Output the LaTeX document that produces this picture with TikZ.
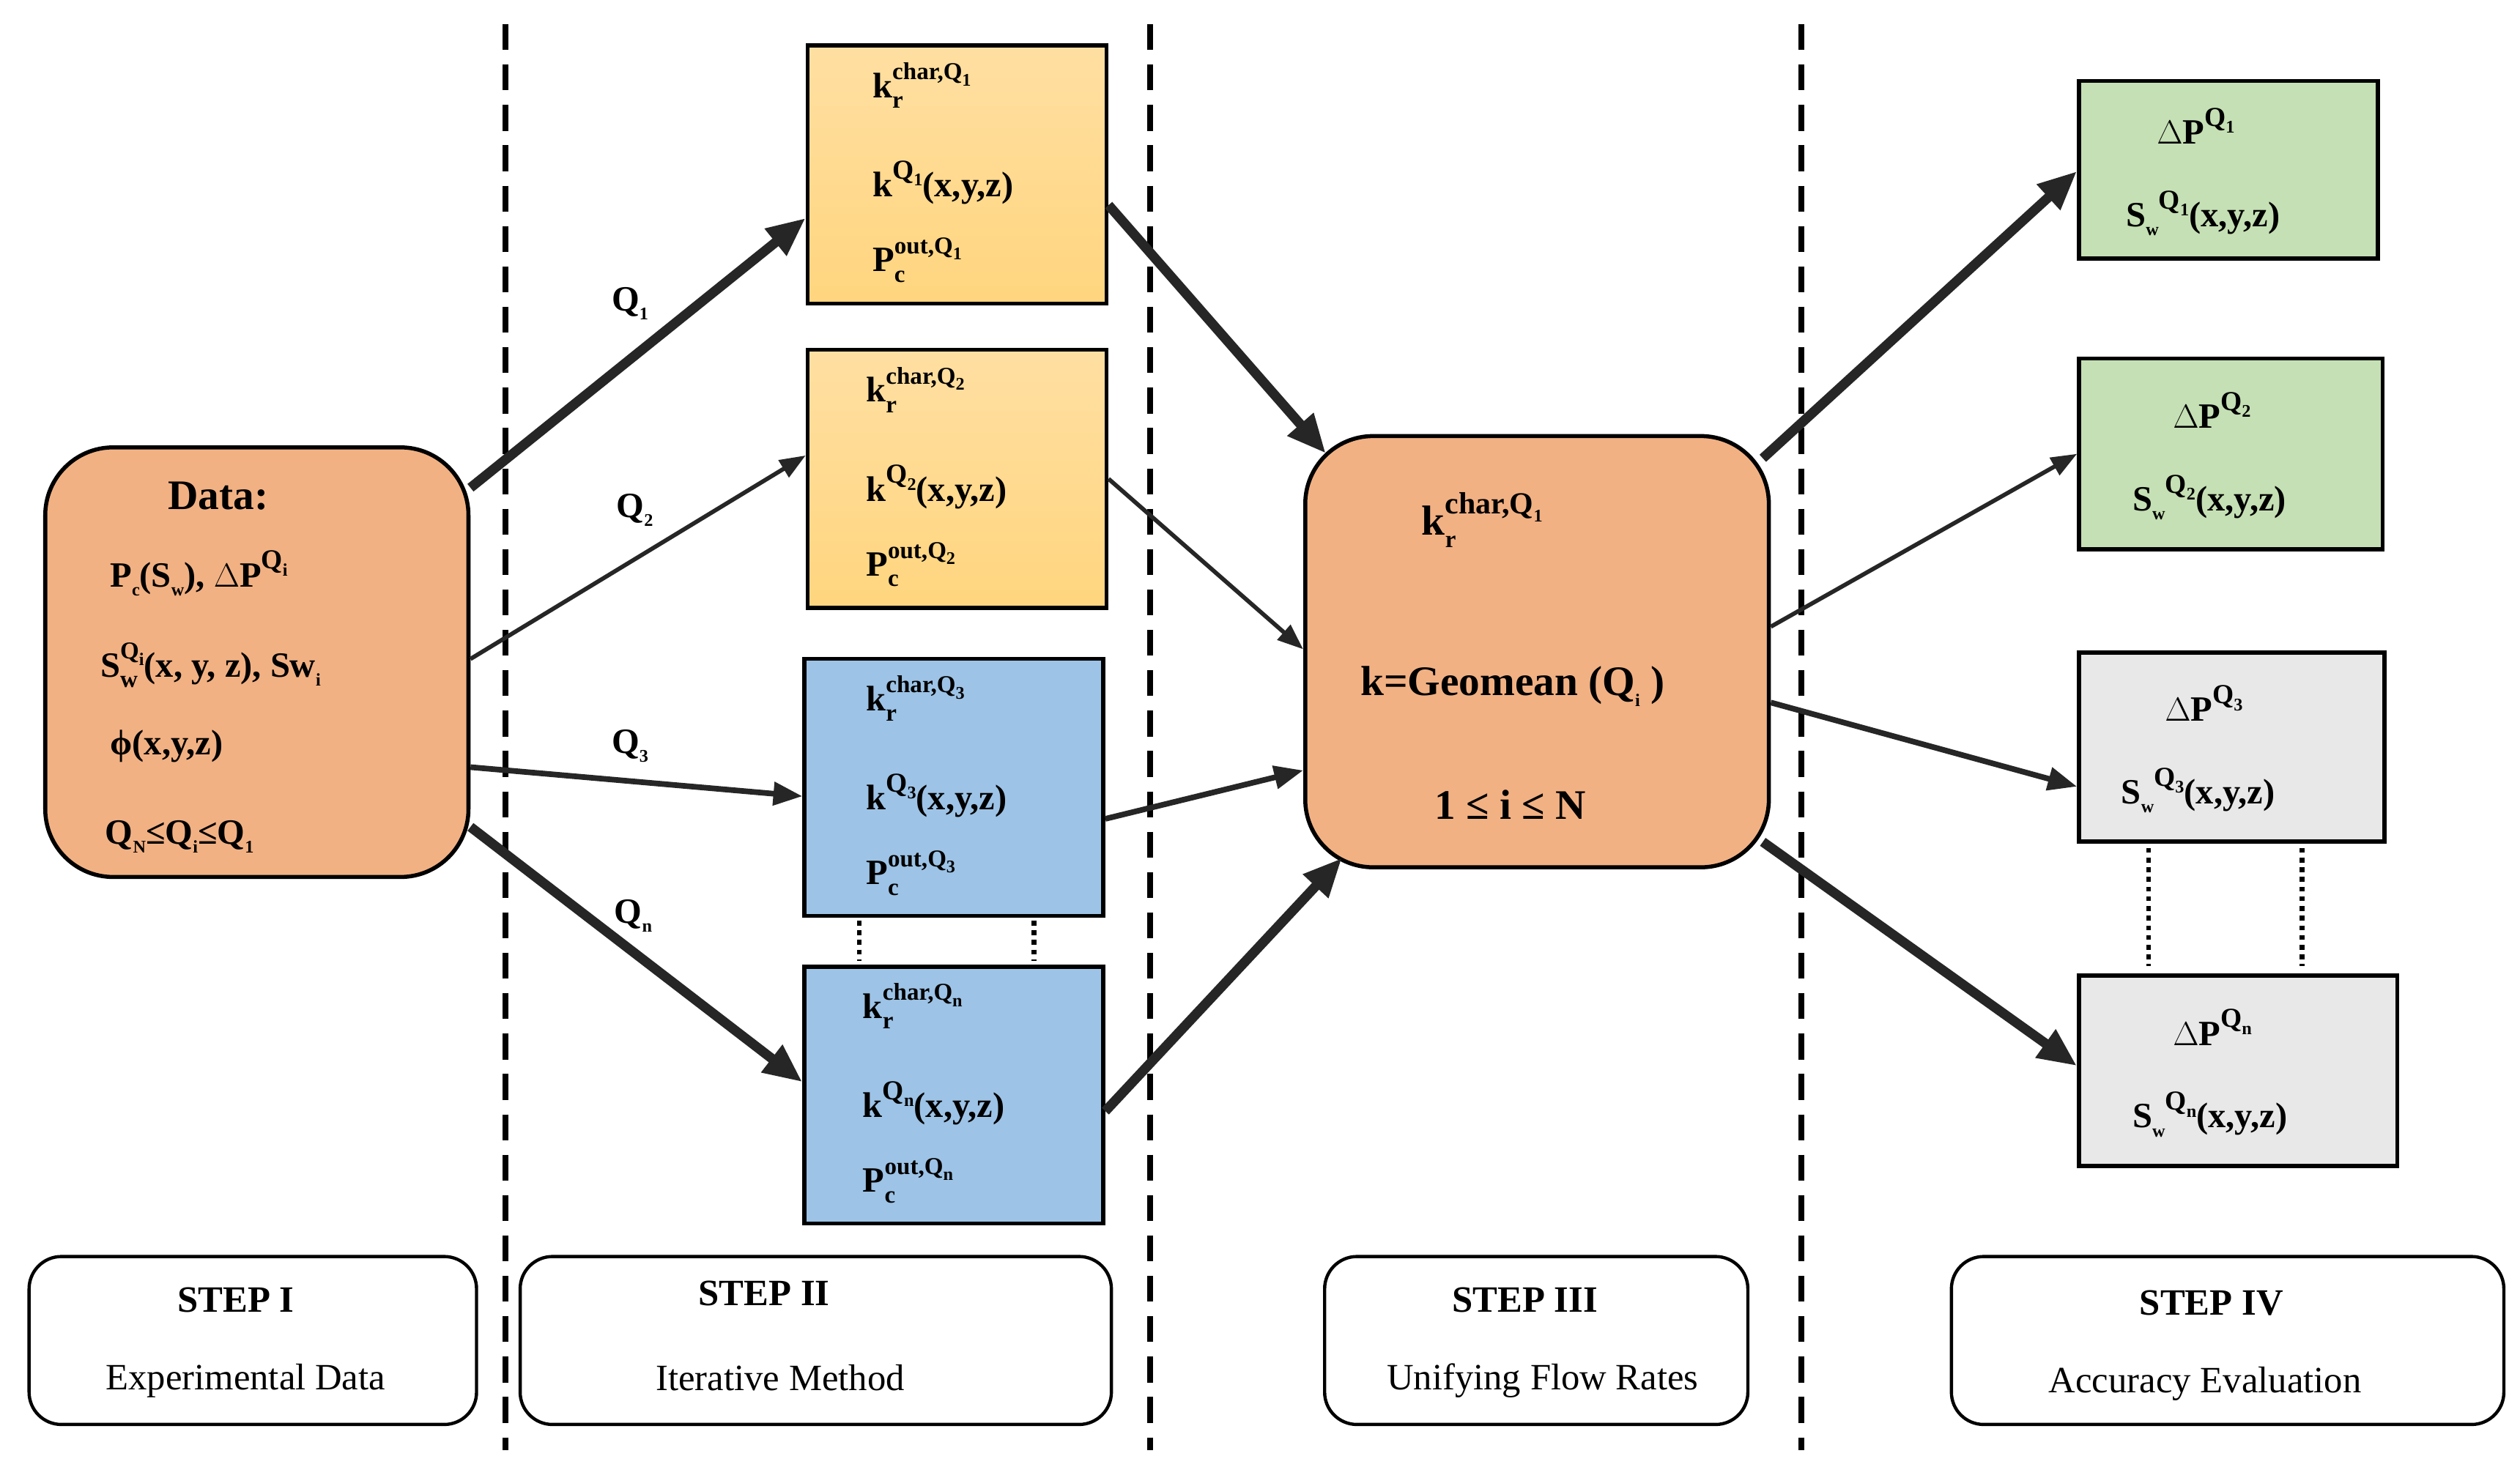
\documentclass[tikz,border=0pt]{standalone}
\usepackage{fontspec}
\setmainfont{Liberation Serif}
\usetikzlibrary{arrows.meta,calc}
\newcommand{\SupSub}[2]{\setbox0\hbox{\fontsize{15}{15}\selectfont #1}\setbox2\hbox{\fontsize{15}{15}\selectfont #2}\ifdim\wd0>\wd2 \rlap{\raisebox{-0.3em}{\box2}}\raisebox{0.5em}{\box0}\else\rlap{\raisebox{0.5em}{\box0}}\raisebox{-0.3em}{\box2}\fi}
\newcommand{\Sb}[1]{\raisebox{-0.25em}{\fontsize{11}{11}\selectfont #1}}
\newcommand{\Sp}[1]{\raisebox{0.5em}{\fontsize{17}{17}\selectfont #1}}
\definecolor{salmon}{HTML}{F2B183}
\definecolor{ytop}{HTML}{FFDFA2}
\definecolor{ybot}{HTML}{FFD57E}
\definecolor{bluef}{HTML}{9DC3E6}
\definecolor{greenf}{HTML}{C5E0B4}
\definecolor{grayf}{HTML}{E8E8E8}
\definecolor{arr}{HTML}{262626}
\begin{document}
\begin{tikzpicture}[x=1pt,y=-1pt,
  mybox/.style={draw=black,line width=2.5pt,minimum width=#1},
  ybox/.style={mybox=185pt,minimum height=160pt,top color=ytop,bottom color=ybot},
  bbox/.style={mybox=185pt,minimum height=159pt,fill=bluef},
  rbig/.style={draw=black,line width=2.5pt,rounded corners=42pt,fill=salmon},
  stepbox/.style={draw=black,line width=2pt,rounded corners=20pt,fill=white},
  txt/.style={font=\bfseries\fontsize{22}{26}\selectfont,anchor=west,inner sep=0pt},
  lbl/.style={font=\bfseries\fontsize{22}{26}\selectfont,inner sep=0pt},
  athick/.style={draw=arr,line width=6pt,-{Triangle[length=24pt,width=20pt]}},
  amed/.style={draw=arr,line width=3.5pt,-{Triangle[length=18pt,width=14pt]}},
  athin/.style={draw=arr,line width=2.6pt,-{Triangle[length=16pt,width=12pt]}},
  sepdash/.style={line width=3.5pt,dash pattern=on 16pt off 9pt},
  mydots/.style={line width=3pt,dash pattern=on 3pt off 3pt}]
\useasboundingbox (0,0) rectangle (1560,908);
% dashed separators
\foreach \x in {313,712,1115} \draw[sepdash] (\x,15) -- (\x,898);
% Data box
\node[rbig,minimum width=262pt,minimum height=266pt] (data) at (159,410) {};
\node[lbl,font=\bfseries\fontsize{26}{30}\selectfont] (dt) at (135,307) {Data:};
\node[txt] (d1) at (68,355) {P\Sb{c}(S\Sb{w}), $\Delta$P\Sp{Q\Sb{i}}};
\node[txt] (d2) at (62,412) {S\SupSub{Q\Sb{i}}{w}(x, y, z), Sw\Sb{i}};
\node[txt] (d3) at (68,462) {ϕ(x,y,z)};
\node[txt] (d4) at (65,518) {Q\Sb{N}≤Q\Sb{i}≤Q\Sb{1}};
% step II boxes
\node[ybox] (b1) at (592.5,108) {};
\node[ybox] (b2) at (592.5,296.5) {};
\node[bbox] (b3) at (590.5,487.5) {};
\node[bbox] (b4) at (590.5,678) {};
\foreach \n/\q/\xx/\yy in {b1/1/540/108,b2/2/536/296.5,b3/3/536/487.5,b4/n/534/678}{
  \node[txt] (\n a) at (\xx,\yy-55) {k\SupSub{char,Q\Sb{\q}}{r}};
  \node[txt] (\n b) at (\xx,\yy+5) {k\Sp{Q\Sb{\q}}(x,y,z)};
  \node[txt] (\n c) at (\xx,\yy+53) {P\SupSub{out,Q\Sb{\q}}{c}};
}
\coordinate (dA1) at (532,570); \coordinate (dA2) at (532,595);
\coordinate (dB1) at (640,570); \coordinate (dB2) at (640,595);
\draw[mydots] (dA1) -- (dA2); \draw[mydots] (dB1) -- (dB2);
% centre box
\node[rbig,minimum width=287pt,minimum height=267pt] (cen) at (951.5,403.5) {};
\node[txt,font=\bfseries\fontsize{26}{30}\selectfont] (c1) at (880,322) {k\SupSub{\fontsize{19}{19}\selectfont char,Q\Sb{1}}{r}};
\node[txt,font=\bfseries\fontsize{26}{30}\selectfont] (c2) at (842,425) {k=Geomean (Q\Sb{i} )};
\node[txt,font=\bfseries\fontsize{26}{30}\selectfont] (c3) at (888,498) {1 ≤ i ≤ N};
% step IV boxes
\node[mybox=185pt,minimum height=110pt,fill=greenf] (g1) at (1379.5,105) {};
\node[mybox=188pt,minimum height=118pt,fill=greenf] (g2) at (1381,281) {};
\node[mybox=189pt,minimum height=117pt,fill=grayf] (r3) at (1381.5,462.5) {};
\node[mybox=197pt,minimum height=118pt,fill=grayf] (r4) at (1385.5,663) {};
\foreach \n/\q/\xa/\xb/\yy in {g1/1/1335/1316/105,g2/2/1345/1320/281,r3/3/1340/1313/462.5,r4/n/1345/1320/663}{
  \node[txt] (\n a) at (\xa,\yy-27) {$\Delta$P\Sp{Q\Sb{\q}}};
  \node[txt] (\n b) at (\xb,\yy+27) {S\Sb{w}\Sp{Q\Sb{\q}}(x,y,z)};
}
\coordinate (dC1) at (1330,525); \coordinate (dC2) at (1330,598);
\coordinate (dD1) at (1425,525); \coordinate (dD2) at (1425,598);
\draw[mydots] (dC1) -- (dC2); \draw[mydots] (dD1) -- (dD2);
% arrows
\draw[athick] ([yshift=108pt]data.east) -- ([yshift=-27pt]b1.west);
\draw[athin] ([yshift=2pt]data.east) -- ([yshift=14.5pt]b2.west);
\draw[amed] ([yshift=-65pt]data.east) -- ([yshift=-5.5pt]b3.west);
\draw[athick] ([yshift=-102pt]data.east) -- ([yshift=8pt]b4.west);
\node[lbl] (q1) at (390,188) {Q\Sb{1}};
\node[lbl] (q2) at (393,316) {Q\Sb{2}};
\node[lbl] (q3) at (390,462) {Q\Sb{3}};
\node[lbl] (qn) at (392,567) {Q\Sb{n}};
\draw[athick] ([yshift=-19pt]b1.east) -- ([xshift=14pt,yshift=-12pt]cen.north west);
\draw[athin] (b2.east) -- ([yshift=1.5pt]cen.west);
\draw[amed] ([yshift=-19.5pt]b3.east) -- ([yshift=-73.5pt]cen.west);
\draw[athick] ([yshift=-10pt]b4.east) -- ([xshift=24pt,yshift=7pt]cen.south west);
\draw[athick] ([xshift=-5pt,yshift=-15pt]cen.north east) -- ([yshift=-1pt]g1.west);
\draw[athin] ([yshift=15.5pt]cen.east) -- (g2.west);
\draw[amed] ([yshift=-31.5pt]cen.east) -- ([yshift=-24.5pt]r3.west);
\draw[athick] ([xshift=-5pt,yshift=17pt]cen.south east) -- ([yshift=3pt]r4.west);
% step boxes
\node[stepbox,minimum width=277pt,minimum height=104pt] (s1) at (156.5,830) {};
\node[stepbox,minimum width=366pt,minimum height=104pt] (s2) at (505,830) {};
\node[stepbox,minimum width=262pt,minimum height=104pt] (s3) at (951,830) {};
\node[stepbox,minimum width=342pt,minimum height=104pt] (s4) at (1379,830) {};
\tikzset{st/.style={font=\bfseries\fontsize{23}{27}\selectfont,inner sep=0pt},
         sd/.style={font=\fontsize{23}{27}\selectfont,inner sep=0pt}}
\node[st] (s1a) at (146,805) {STEP I};
\node[sd] (s1b) at (152,855) {Experimental Data};
\node[st] (s2a) at (473,801) {STEP II};
\node[sd] (s2b) at (483,853) {Iterative Method};
\node[st] (s3a) at (944,805) {STEP III};
\node[sd] (s3b) at (955,855) {Unifying Flow Rates};
\node[st] (s4a) at (1369,807) {STEP IV};
\node[sd] (s4b) at (1365,857) {Accuracy Evaluation};
\end{tikzpicture}
\end{document}
